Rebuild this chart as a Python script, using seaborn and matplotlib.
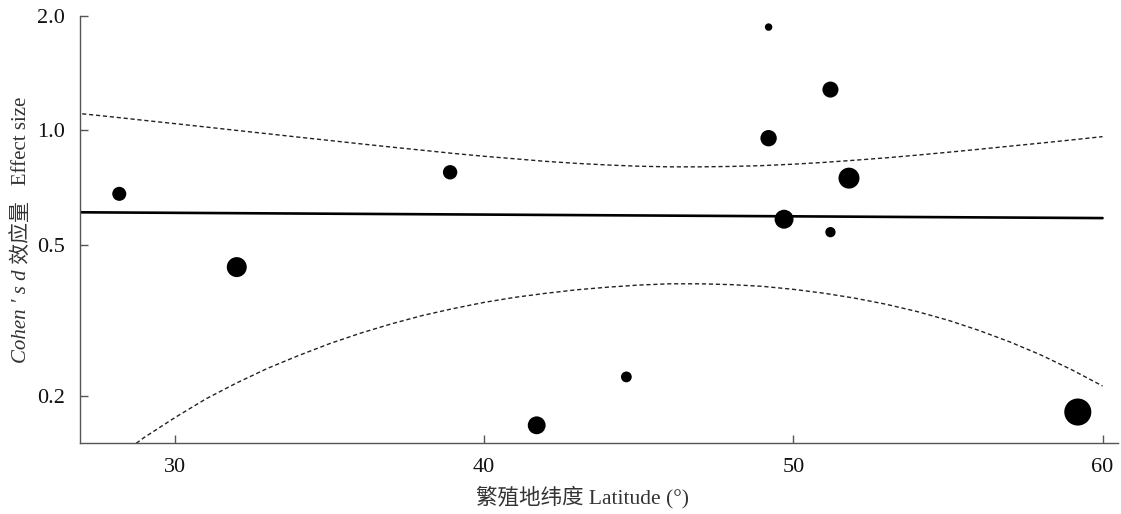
import matplotlib
matplotlib.use('Agg')
import matplotlib.pyplot as plt
import seaborn as sns
import pandas as pd

# ── data ────────────────────────────────────────────────────
latitude = [28.2, 32.0, 38.9, 41.7, 44.6, 49.2, 49.2, 49.7, 51.2, 51.2, 51.8, 59.2]
effect_d = [0.68, 0.436, 0.775, 0.167, 0.224, 1.87, 0.953, 0.583, 1.28, 0.539, 0.748, 0.181]
weight = [20, 40, 21, 32, 12, 6, 27, 36, 26, 11, 44, 73]

fit_lat = [26.9, 60.0]
fit_d = [0.608, 0.587]

band_lat = [27, 28, 29, 30, 31, 32, 33, 34, 35, 36, 37, 38, 39, 40, 41, 42, 43,
            44, 45, 46, 47, 48, 49, 50, 51, 52, 53, 54, 55, 56, 57, 58, 59, 60]
band_upper = [1.105, 1.084, 1.062, 1.041, 1.020, 0.999, 0.979, 0.959, 0.940, 0.921,
              0.903, 0.886, 0.869, 0.854, 0.841, 0.828, 0.818, 0.810, 0.804, 0.801,
              0.801, 0.803, 0.807, 0.814, 0.823, 0.834, 0.846, 0.860, 0.875, 0.891,
              0.908, 0.925, 0.943, 0.962]
band_lower = [0.115, 0.135, 0.155, 0.175, 0.196, 0.216, 0.236, 0.255, 0.274, 0.292,
              0.309, 0.325, 0.339, 0.352, 0.363, 0.372, 0.380, 0.386, 0.391, 0.394,
              0.394, 0.392, 0.388, 0.381, 0.372, 0.361, 0.348, 0.333, 0.316, 0.297,
              0.277, 0.256, 0.234, 0.212]

y_ticks = [0.2, 0.5, 1.0, 2.0]
x_ticks = [30, 40, 50, 60]

pts = pd.DataFrame({'lat': latitude, 'd': effect_d, 'w': weight})
fit = pd.DataFrame({'lat': fit_lat, 'd': fit_d})
band = pd.DataFrame({'lat': band_lat, 'up': band_upper, 'lo': band_lower})

sns.set_style('ticks')
plt.rcParams['font.family'] = ['Liberation Serif', 'Noto Sans CJK SC']
plt.rcParams['font.size'] = 15

fig = plt.figure(figsize=(11.21, 5.14), dpi=100)
ax = fig.add_axes([80 / 1121, 1 - 443 / 514, (1118 - 80) / 1121, (443 - 16) / 514])

# confidence bands (dashed) and fitted line
sns.lineplot(data=band, x='lat', y='up', ax=ax, color='#222222', lw=1.0,
             linestyle=(0, (3, 2)), sort=False)
sns.lineplot(data=band, x='lat', y='lo', ax=ax, color='#222222', lw=1.0,
             linestyle=(0, (3, 2)), sort=False)
sns.lineplot(data=fit, x='lat', y='d', ax=ax, color='black', lw=1.9, sort=False)

# study points, size ~ weight
sns.scatterplot(data=pts, x='lat', y='d', size='w', sizes=(29, 380), color='black',
                edgecolor='none', linewidth=0, legend=False, ax=ax, zorder=5)

ax.set_yscale('log')
ax.set_ylim(0.15, 2.0)
ax.set_xlim(26.93, 60.5)
ax.set_yticks(y_ticks)
ax.set_yticklabels([f'{v:.1f}' for v in y_ticks])
ax.minorticks_off()
ax.set_xticks(x_ticks)
ax.set_xticklabels([str(v) for v in x_ticks])

for side in ['top', 'right']:
    ax.spines[side].set_visible(False)
for side in ['left', 'bottom']:
    ax.spines[side].set_color('#555555')
    ax.spines[side].set_linewidth(1.0)
ax.tick_params(axis='both', direction='in', length=6, width=1.0, color='#555555',
               labelsize=16, labelcolor='#111111')
ax.tick_params(axis='x', pad=11)
ax.tick_params(axis='y', pad=11)

ax.set_ylabel('')
ax.set_xlabel('繁殖地纬度 Latitude (°)', fontsize=15.5, color='#333333')
ax.xaxis.set_label_coords((583 - 80) / 1038, (443 - 486) / 427)

# y label built from an italic and an upright piece
parts = [('Cohen ′ s d', 'italic'), (' 效应量', 'normal'), ('   Effect size', 'normal')]
texts = [fig.text(22 / 1121, 0, s, rotation=90, style=st, ha='center', va='bottom',
                  fontsize=15, color='#333333') for s, st in parts]
fig.canvas.draw()
r = fig.canvas.get_renderer()
heights = [t.get_window_extent(r).height for t in texts]
y = (1 - 230 / 514) * fig.bbox.height - sum(heights) / 2
for t, h in zip(texts, heights):
    t.set_position((22 / 1121, y / fig.bbox.height))
    y += h

fig.savefig('out.png', dpi=100)
plt.close(fig)
